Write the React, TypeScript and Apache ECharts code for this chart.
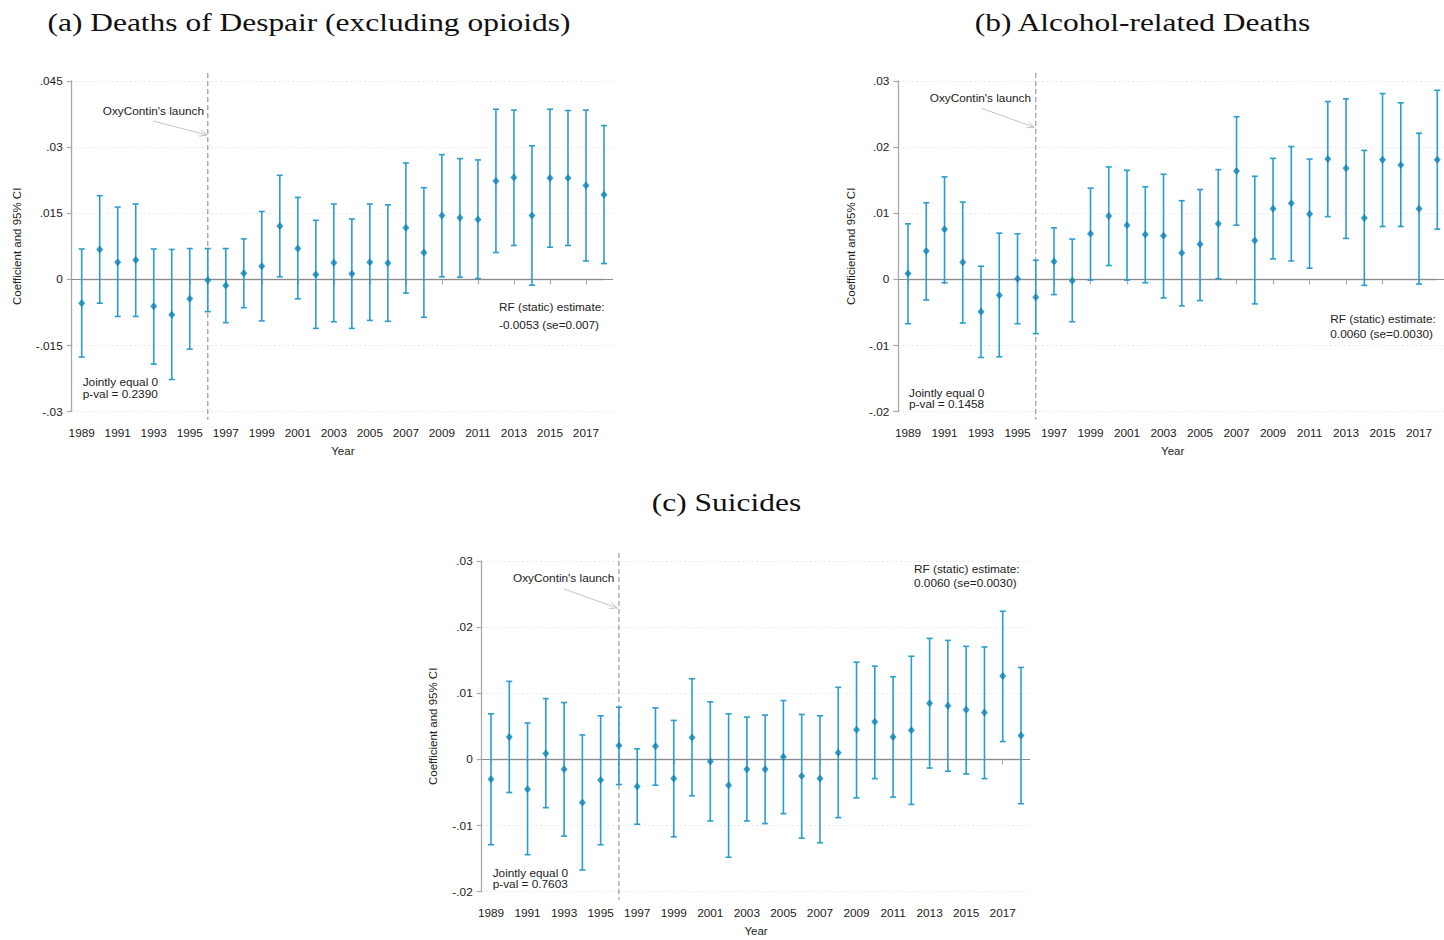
import React, { useEffect, useRef } from "react";
import * as echarts from "echarts";

const years = [1989, 1990, 1991, 1992, 1993, 1994, 1995, 1996, 1997, 1998, 1999, 2000, 2001, 2002, 2003, 2004, 2005, 2006, 2007, 2008, 2009, 2010, 2011, 2012, 2013, 2014, 2015, 2016, 2017, 2018];
const tickYears = [1989, 1991, 1993, 1995, 1997, 1999, 2001, 2003, 2005, 2007, 2009, 2011, 2013, 2015, 2017];
const launchYear = 1996;

const despairCoef = [-0.0054, 0.0068, 0.0039, 0.0044, -0.0061, -0.0080, -0.0044, -0.0002, -0.0014, 0.0014, 0.0030, 0.0121, 0.0070, 0.0011, 0.0038, 0.0013, 0.0039, 0.0037, 0.0117, 0.0061, 0.0145, 0.0140, 0.0136, 0.0223, 0.0231, 0.0145, 0.0230, 0.0230, 0.0213, 0.0192];
const despairHi = [0.0069, 0.0190, 0.0164, 0.0171, 0.0069, 0.0068, 0.0070, 0.0070, 0.0070, 0.0092, 0.0154, 0.0236, 0.0186, 0.0134, 0.0171, 0.0137, 0.0171, 0.0169, 0.0264, 0.0208, 0.0283, 0.0274, 0.0271, 0.0386, 0.0384, 0.0303, 0.0386, 0.0383, 0.0384, 0.0349];
const despairLo = [-0.0176, -0.0054, -0.0084, -0.0084, -0.0192, -0.0227, -0.0158, -0.0073, -0.0098, -0.0064, -0.0094, 0.0006, -0.0044, -0.0111, -0.0096, -0.0111, -0.0093, -0.0095, -0.0031, -0.0086, 0.0006, 0.0005, 0.0002, 0.0061, 0.0077, -0.0013, 0.0073, 0.0077, 0.0042, 0.0036];

const alcoholCoef = [0.0009, 0.0043, 0.0076, 0.0026, -0.0049, -0.0024, 0.0001, -0.0027, 0.0027, -0.0002, 0.0069, 0.0096, 0.0082, 0.0068, 0.0066, 0.0040, 0.0053, 0.0084, 0.0164, 0.0059, 0.0107, 0.0115, 0.0099, 0.0182, 0.0168, 0.0093, 0.0181, 0.0173, 0.0107, 0.0181];
const alcoholHi = [0.0084, 0.0116, 0.0155, 0.0117, 0.0020, 0.0070, 0.0069, 0.0029, 0.0078, 0.0061, 0.0138, 0.0170, 0.0165, 0.0140, 0.0159, 0.0119, 0.0136, 0.0166, 0.0246, 0.0156, 0.0183, 0.0201, 0.0182, 0.0269, 0.0273, 0.0195, 0.0281, 0.0267, 0.0221, 0.0286];
const alcoholLo = [-0.0067, -0.0031, -0.0005, -0.0066, -0.0118, -0.0117, -0.0067, -0.0082, -0.0023, -0.0064, -0.0001, 0.0021, -0.0001, -0.0005, -0.0028, -0.0040, -0.0032, 0.0001, 0.0082, -0.0037, 0.0031, 0.0028, 0.0017, 0.0095, 0.0062, -0.0009, 0.0080, 0.0080, -0.0007, 0.0076];

const suicideCoef = [-0.0030, 0.0034, -0.0045, 0.0009, -0.0015, -0.0065, -0.0031, 0.0021, -0.0041, 0.0020, -0.0029, 0.0033, -0.0003, -0.0039, -0.0015, -0.0015, 0.0004, -0.0025, -0.0029, 0.0010, 0.0045, 0.0057, 0.0034, 0.0044, 0.0085, 0.0081, 0.0075, 0.0071, 0.0126, 0.0036];
const suicideHi = [0.0069, 0.0118, 0.0055, 0.0092, 0.0086, 0.0037, 0.0066, 0.0079, 0.0016, 0.0078, 0.0059, 0.0122, 0.0087, 0.0069, 0.0064, 0.0067, 0.0089, 0.0068, 0.0066, 0.0109, 0.0147, 0.0141, 0.0125, 0.0156, 0.0183, 0.0180, 0.0171, 0.0170, 0.0224, 0.0139];
const suicideLo = [-0.0129, -0.0050, -0.0144, -0.0073, -0.0116, -0.0167, -0.0129, -0.0038, -0.0098, -0.0039, -0.0117, -0.0055, -0.0093, -0.0148, -0.0093, -0.0097, -0.0082, -0.0119, -0.0126, -0.0088, -0.0058, -0.0029, -0.0057, -0.0068, -0.0013, -0.0018, -0.0022, -0.0029, 0.0027, -0.0067];

const panels = [
  {
    title: "(a) Deaths of Despair (excluding opioids)",
    titleX: 309, titleY: 22,
    coef: despairCoef, lo: despairLo, hi: despairHi,
    yMin: -0.03, yMax: 0.045, yInterval: 0.015,
    axisX: 71.7, xStart: 81.7, xEnd: 604, regionRight: 613, top: 81, bottom: 411.7, xAxisY: 420,
    nameGap: 49,
    oxy: { x: 204, y: 111, ax1: 153, ay1: 121, ax2: 207, ay2: 135 },
    joint: { x: 82.7, y1: 382.3, y2: 393.7, text: "p-val = 0.2390" },
    rf: { x: 499, y1: 306.7, y2: 325, text: "-0.0053 (se=0.007)" },
  },
  {
    title: "(b) Alcohol-related Deaths",
    titleX: 1142.5, titleY: 22,
    coef: alcoholCoef, lo: alcoholLo, hi: alcoholHi,
    yMin: -0.02, yMax: 0.03, yInterval: 0.01,
    axisX: 898.3, xStart: 908, xEnd: 1437.3, regionRight: 1444, top: 81, bottom: 411.7, xAxisY: 420,
    nameGap: 41.5,
    oxy: { x: 1031, y: 98.3, ax1: 981.7, ay1: 108.3, ax2: 1034.3, ay2: 127.3 },
    joint: { x: 909, y1: 392.7, y2: 404.3, text: "p-val = 0.1458" },
    rf: { x: 1330.3, y1: 319.3, y2: 334.3, text: "0.0060 (se=0.0030)" },
  },
  {
    title: "(c) Suicides",
    titleX: 726.5, titleY: 502,
    coef: suicideCoef, lo: suicideLo, hi: suicideHi,
    yMin: -0.02, yMax: 0.03, yInterval: 0.01,
    axisX: 481.7, xStart: 491, xEnd: 1021, regionRight: 1030, top: 561, bottom: 891.7, xAxisY: 900,
    nameGap: 43,
    oxy: { x: 614.3, y: 578.3, ax1: 564, ay1: 589, ax2: 617.3, ay2: 608 },
    joint: { x: 492.7, y1: 872.7, y2: 884.3, text: "p-val = 0.7603" },
    rf: { x: 914, y1: 569.3, y2: 583.3, text: "0.0060 (se=0.0030)" },
  },
];

const BAR = "#2a9dcf";
const DOT = "#0a83b8";
const AXIS = "#a8a8a8";
const TXT = "#222222";
const SANS = "'Liberation Sans', Arial, sans-serif";
const SERIF = "'Liberation Serif', 'DejaVu Serif', serif";
const FS = 11.8;

function fmtY(v: number) {
  if (Math.abs(v) < 1e-9) return "0";
  const s = parseFloat(v.toFixed(4)).toString();
  return s.replace("0.", ".");
}

function arrow(x1: number, y1: number, x2: number, y2: number) {
  const ang = Math.atan2(y2 - y1, x2 - x1);
  const L = 8, a = 0.4;
  const p1 = [x2 - L * Math.cos(ang - a), y2 - L * Math.sin(ang - a)];
  const p2 = [x2 - L * Math.cos(ang + a), y2 - L * Math.sin(ang + a)];
  return [
    { type: "line", shape: { x1, y1, x2, y2 }, style: { stroke: "#c4c4c4", lineWidth: 1 } },
    { type: "polyline", shape: { points: [p1, [x2, y2], p2] }, style: { stroke: "#c4c4c4", lineWidth: 1, fill: null } },
  ];
}

function buildOption() {
  const grid: any[] = [];
  const xAxis: any[] = [];
  const yAxis: any[] = [];
  const series: any[] = [];
  const graphic: any[] = [];

  panels.forEach((p, i) => {
    const pxPerYear = (p.xEnd - p.xStart) / (years[years.length - 1] - years[0]);
    const wideMin = years[0] - (p.xStart - p.axisX) / pxPerYear;
    const wideMax = years[years.length - 1] + (p.regionRight - p.xEnd) / pxPerYear;
    const h = p.bottom - p.top;
    grid.push({ left: p.axisX, top: p.top, width: p.regionRight - p.axisX, height: h, containLabel: false });
    grid.push({ left: p.xStart, top: p.top, width: p.xEnd - p.xStart, height: h, containLabel: false });
    const gw = i * 2, gn = i * 2 + 1;

    xAxis.push({ gridIndex: gw, type: "value", min: wideMin, max: wideMax, show: false, splitLine: { show: false } });
    xAxis.push({
      gridIndex: gn, type: "value", min: years[0], max: years[years.length - 1],
      offset: p.xAxisY - p.bottom,
      axisLine: { show: true, lineStyle: { color: AXIS, width: 1.3 } },
      axisTick: { show: true, length: 5, lineStyle: { color: AXIS, width: 1.2 }, customValues: tickYears },
      axisLabel: { show: true, customValues: tickYears, color: TXT, fontSize: FS, fontFamily: SANS, margin: 7, formatter: (v: number) => String(Math.round(v)) },
      splitLine: { show: false },
      name: "Year", nameLocation: "middle", nameGap: 25,
      nameTextStyle: { color: TXT, fontSize: 11.5, fontFamily: SANS },
    });
    yAxis.push({
      gridIndex: gw, type: "value", min: p.yMin, max: p.yMax, interval: p.yInterval,
      axisLine: { show: true, lineStyle: { color: AXIS, width: 1.3 } },
      axisTick: { show: true, length: 5, lineStyle: { color: AXIS, width: 1.2 } },
      axisLabel: { color: TXT, fontSize: FS, fontFamily: SANS, margin: 9, formatter: fmtY },
      splitLine: { show: true, lineStyle: { color: "#e2e2e2", type: [1.5, 3], width: 1 } },
      name: "Coefficient and 95% CI", nameLocation: "middle", nameGap: p.nameGap,
      nameTextStyle: { color: TXT, fontSize: 11.5, fontFamily: SANS },
    });
    yAxis.push({ gridIndex: gn, type: "value", min: p.yMin, max: p.yMax, show: false, splitLine: { show: false } });

    const ciData = years.map((y, k) => [y, p.lo[k], p.hi[k]]);
    const ptData = years.map((y, k) => [y, p.coef[k]]);

    series.push({
      type: "custom", xAxisIndex: gw, yAxisIndex: gw, data: [[launchYear]], silent: true, z: 1,
      renderItem: (params: any, api: any) => {
        const t = api.coord([api.value(0), p.yMax]);
        const b = api.coord([api.value(0), p.yMin]);
        return { type: "line", shape: { x1: t[0], y1: t[1] - 8, x2: b[0], y2: b[1] + 8 }, style: { stroke: "#9a9a9a", lineWidth: 1.2, lineDash: [5, 3] } };
      },
    });
    series.push({
      type: "custom", xAxisIndex: gw, yAxisIndex: gw, data: ciData, silent: true, z: 3,
      encode: { x: 0, y: [1, 2] },
      renderItem: (params: any, api: any) => {
        const x = api.value(0);
        const a = api.coord([x, api.value(1)]);
        const b = api.coord([x, api.value(2)]);
        const w = 3;
        return {
          type: "group",
          children: [
            { type: "line", shape: { x1: a[0], y1: a[1], x2: b[0], y2: b[1] }, style: { stroke: BAR, lineWidth: 1.6 } },
            { type: "line", shape: { x1: a[0] - w, y1: a[1], x2: a[0] + w, y2: a[1] }, style: { stroke: BAR, lineWidth: 1.6 } },
            { type: "line", shape: { x1: b[0] - w, y1: b[1], x2: b[0] + w, y2: b[1] }, style: { stroke: BAR, lineWidth: 1.6 } },
          ],
        };
      },
    });
    series.push({
      type: "scatter", xAxisIndex: gw, yAxisIndex: gw, data: ptData, symbol: "diamond", symbolSize: [7, 8],
      itemStyle: { color: DOT }, z: 4, silent: true,
      markLine: {
        silent: true, symbol: "none", label: { show: false },
        lineStyle: { color: "#8c8c8c", type: "solid", width: 1.2 },
        data: [{ yAxis: 0 }],
        z: 2,
      },
    });

    graphic.push({
      type: "text", x: p.titleX, y: p.titleY, scaleX: 1.21, scaleY: 1,
      style: { text: p.title, fill: "#111", font: `26px ${SERIF}`, align: "center", verticalAlign: "middle" },
    });
    graphic.push({
      type: "text", x: p.oxy.x, y: p.oxy.y,
      style: { text: "OxyContin's launch", fill: TXT, font: `${FS}px ${SANS}`, align: "right", verticalAlign: "middle" },
    });
    graphic.push(...arrow(p.oxy.ax1, p.oxy.ay1, p.oxy.ax2, p.oxy.ay2));
    graphic.push({ type: "text", x: p.joint.x, y: p.joint.y1, style: { text: "Jointly equal 0", fill: TXT, font: `${FS}px ${SANS}`, align: "left", verticalAlign: "middle" } });
    graphic.push({ type: "text", x: p.joint.x, y: p.joint.y2, style: { text: p.joint.text, fill: TXT, font: `${FS}px ${SANS}`, align: "left", verticalAlign: "middle" } });
    graphic.push({ type: "text", x: p.rf.x, y: p.rf.y1, style: { text: "RF (static) estimate:", fill: TXT, font: `${FS}px ${SANS}`, align: "left", verticalAlign: "middle" } });
    graphic.push({ type: "text", x: p.rf.x, y: p.rf.y2, style: { text: p.rf.text, fill: TXT, font: `${FS}px ${SANS}`, align: "left", verticalAlign: "middle" } });
  });

  return { animation: false, backgroundColor: "#ffffff", grid, xAxis, yAxis, series, graphic };
}

export default function App() {
  const ref = useRef<HTMLDivElement>(null);
  useEffect(() => {
    if (!ref.current) return;
    const chart = echarts.init(ref.current, undefined, { renderer: "svg" });
    chart.setOption(buildOption() as any);
    return () => chart.dispose();
  }, []);
  return <div ref={ref} style={{ position: "fixed", left: 0, top: 0, width: 1444, height: 940, background: "#fff" }} />;
}
